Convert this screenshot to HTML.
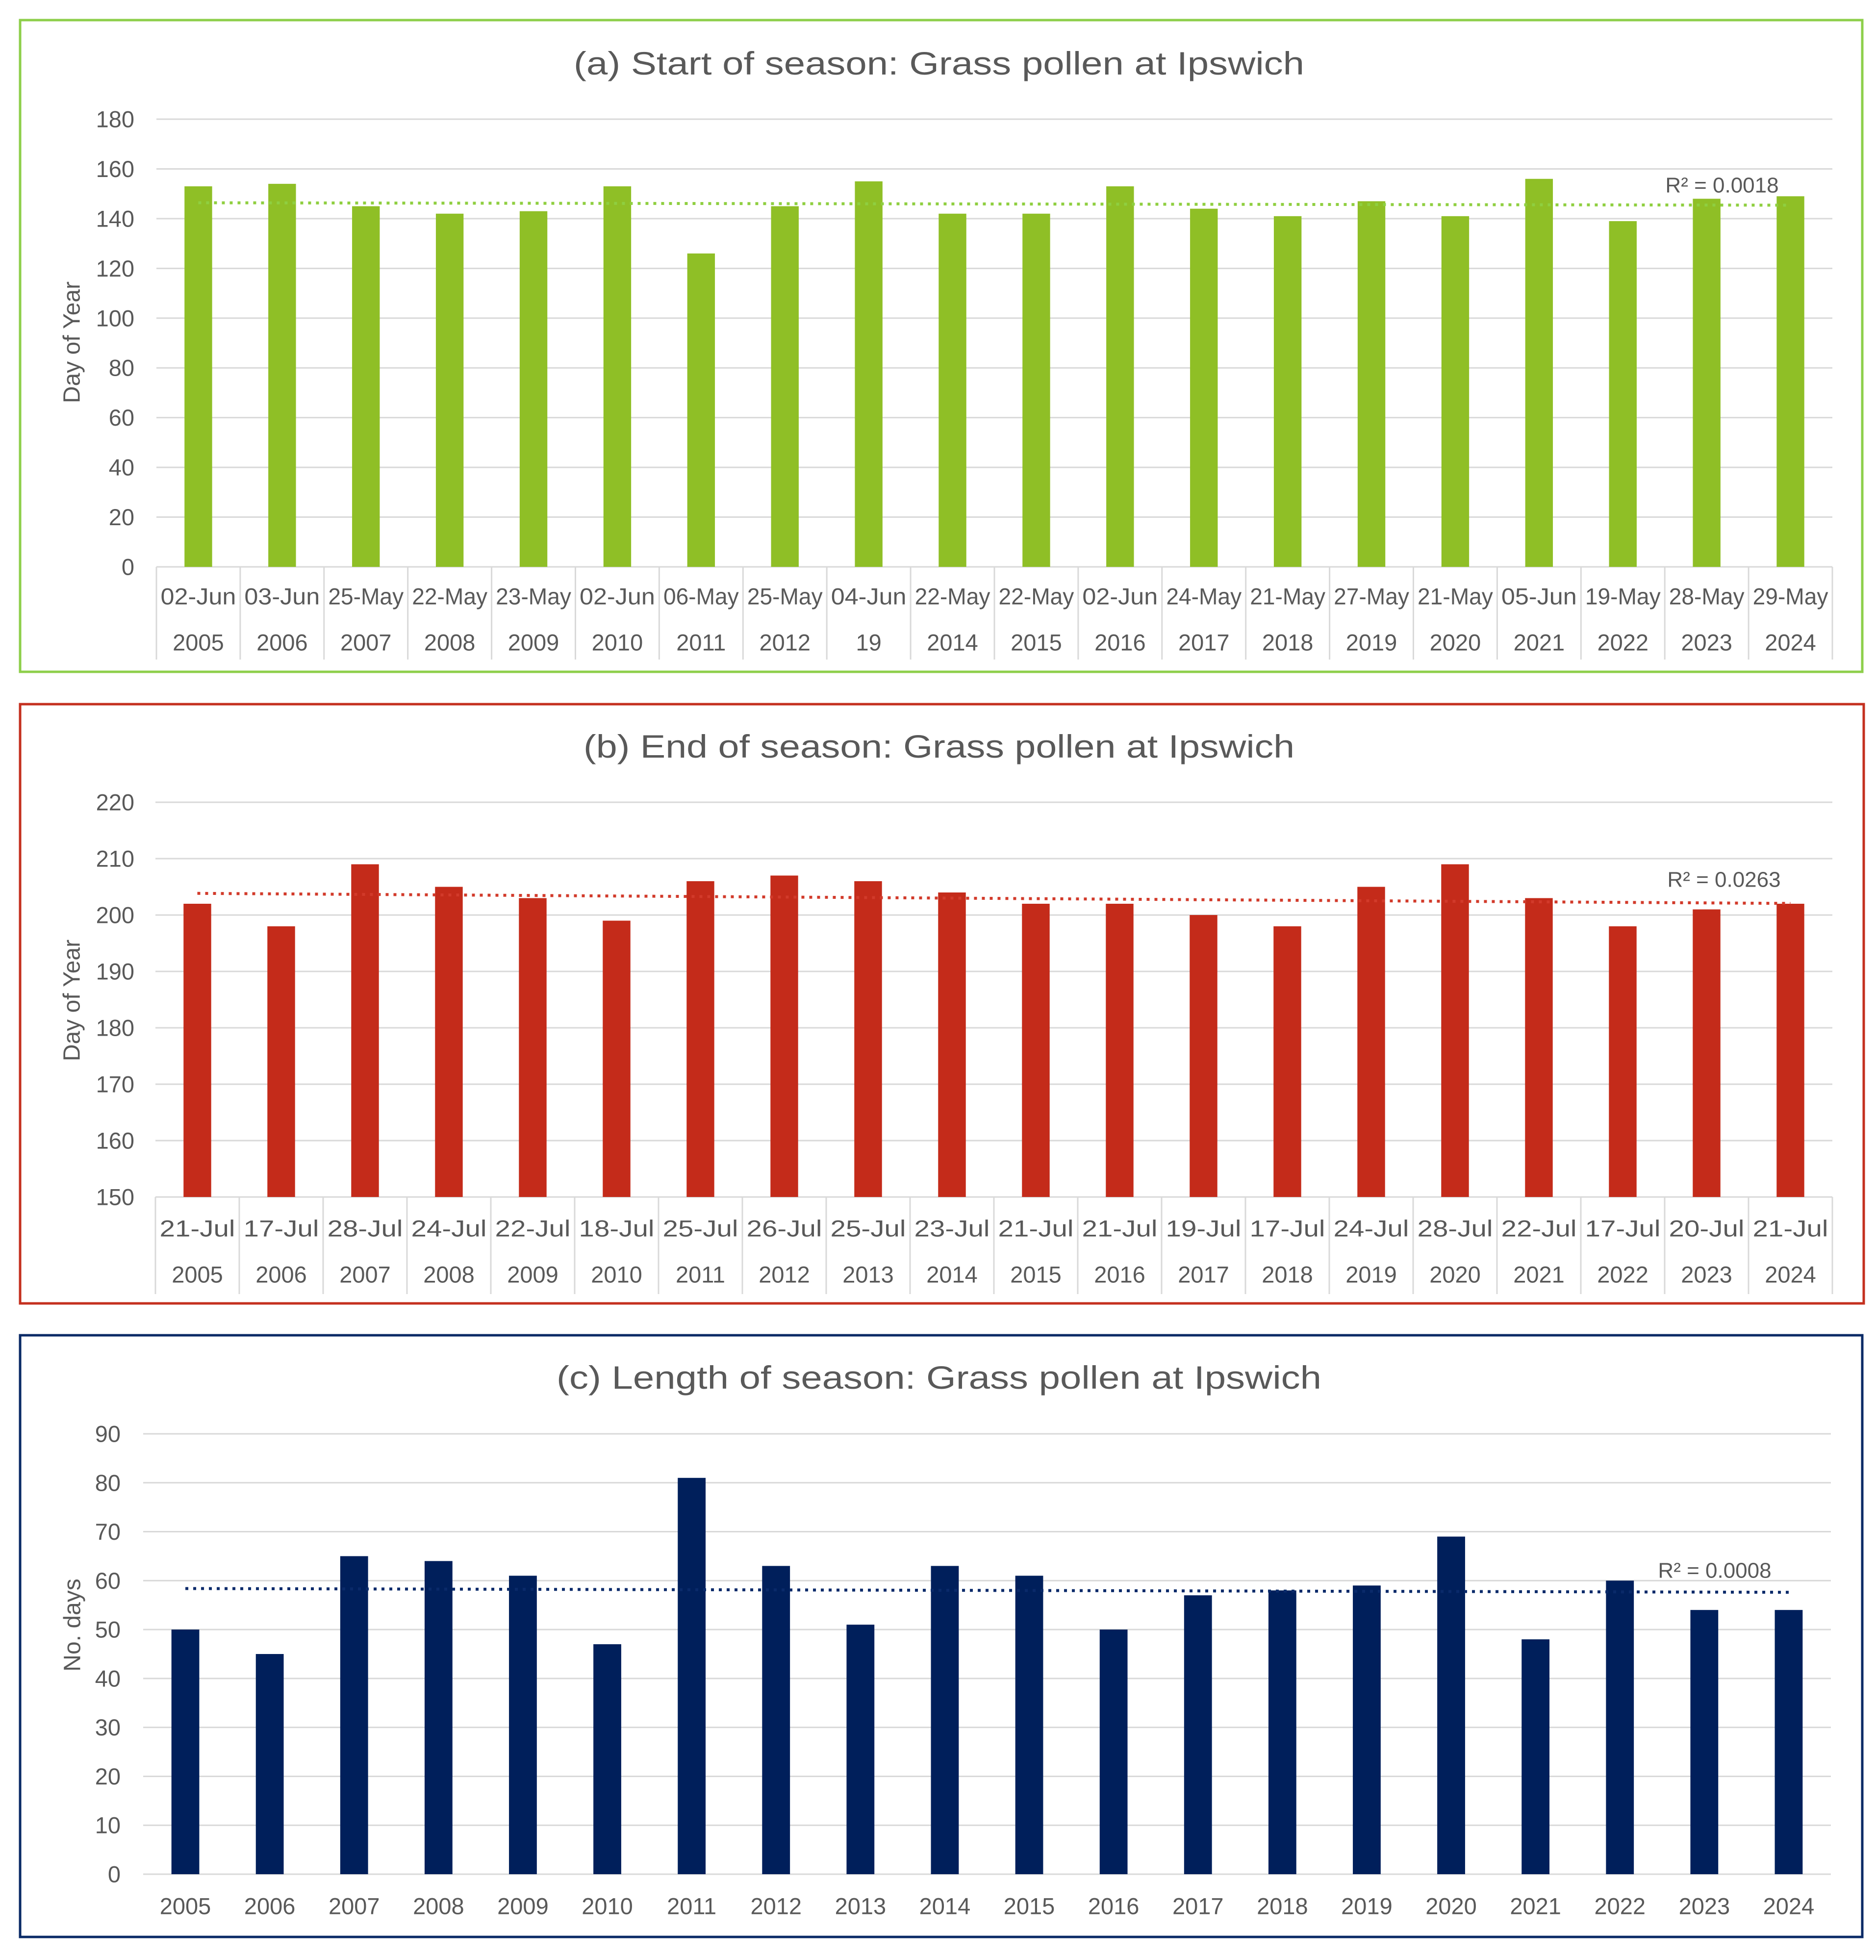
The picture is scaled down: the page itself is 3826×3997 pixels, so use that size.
<!DOCTYPE html>
<html><head><meta charset="utf-8"><style>
html,body{margin:0;padding:0;background:#fff}
svg{display:block;font-family:"Liberation Sans",sans-serif}
</style></head><body>
<svg id="root" width="3826" height="3997" viewBox="0 0 3826 3997"></svg>
<script>
const yearsA = ["2005","2006","2007","2008","2009","2010","2011","2012","19","2014","2015","2016","2017","2018","2019","2020","2021","2022","2023","2024"];
const datesA = ["02-Jun","03-Jun","25-May","22-May","23-May","02-Jun","06-May","25-May","04-Jun","22-May","22-May","02-Jun","24-May","21-May","27-May","21-May","05-Jun","19-May","28-May","29-May"];
const valuesA = [153,154,145,142,143,153,126,145,155,142,142,153,144,141,147,141,156,139,148,149];
const ticksA = [0,20,40,60,80,100,120,140,160,180];

const yearsB = ["2005","2006","2007","2008","2009","2010","2011","2012","2013","2014","2015","2016","2017","2018","2019","2020","2021","2022","2023","2024"];
const datesB = ["21-Jul","17-Jul","28-Jul","24-Jul","22-Jul","18-Jul","25-Jul","26-Jul","25-Jul","23-Jul","21-Jul","21-Jul","19-Jul","17-Jul","24-Jul","28-Jul","22-Jul","17-Jul","20-Jul","21-Jul"];
const valuesB = [202,198,209,205,203,199,206,207,206,204,202,202,200,198,205,209,203,198,201,202];
const ticksB = [150,160,170,180,190,200,210,220];

const yearsC = ["2005","2006","2007","2008","2009","2010","2011","2012","2013","2014","2015","2016","2017","2018","2019","2020","2021","2022","2023","2024"];
const valuesC = [50,45,65,64,61,47,81,63,51,63,61,50,57,58,59,69,48,60,54,54];
const ticksC = [0,10,20,30,40,50,60,70,80,90];

const NS = "http://www.w3.org/2000/svg";
const root = document.getElementById('root');
function mk(tag, attrs, parent, text){
  const e = document.createElementNS(NS, tag);
  for (const k in attrs) e.setAttribute(k, attrs[k]);
  if (text !== undefined) e.textContent = text;
  (parent || root).appendChild(e);
  return e;
}
function regression(vals){
  const n = vals.length; let sx=0, sy=0, sxy=0, sxx=0;
  vals.forEach((v,i)=>{sx+=i; sy+=v; sxy+=i*v; sxx+=i*i;});
  const b = (n*sxy - sx*sy)/(n*sxx - sx*sx);
  const a = (sy - b*sx)/n;
  return [a, b];
}

function panel(cfg){
  const g = mk('g', {});
  
  
  const border = mk('rect', {x:cfg.bx, y:cfg.by, width:cfg.bw, height:cfg.bh, fill:'#fff', stroke:cfg.border, 'stroke-width':5}, g);
  
  
  const title = mk('text', {x:1915, y:cfg.titleY, 'font-size':66, fill:'#595959', 'text-anchor':'middle', 'dominant-baseline':'central', textLength:cfg.titleLen, lengthAdjust:'spacingAndGlyphs'}, g, cfg.title);
  
  
  const n = cfg.values.length;
  const cw = (cfg.right - cfg.left)/n;
  const x = i => cfg.left + cw*(i+0.5);
  const y = v => cfg.y0 + (v - cfg.min)/(cfg.max - cfg.min)*(cfg.y1 - cfg.y0);
  cfg.ticks.forEach(t=>{
    const gl = mk('line', {x1:cfg.left, x2:cfg.right, y1:y(t), y2:y(t), stroke:'#d9d9d9', 'stroke-width':3}, g);
    
    
    const tl = mk('text', {x:cfg.labelRight, y:y(t), 'font-size':47, fill:'#595959', 'text-anchor':'end', 'dominant-baseline':'central'}, g, String(t));
    
    
  });
  const at = mk('text', {x:0, y:0, 'font-size':48, fill:'#595959', 'text-anchor':'middle', 'dominant-baseline':'central', transform:`translate(${cfg.axisTitleX},${cfg.axisTitleY}) rotate(-90)`}, g, cfg.axisTitle);
  
  
  cfg.values.forEach((v,i)=>{
    const bw = cw*0.33;
    const r = mk('rect', {x:x(i)-bw/2, y:y(v), width:bw, height:y(cfg.min)-y(v), fill:cfg.color}, g);
    
    
  });
  if (cfg.dates){
    for (let i=0;i<=n;i++){
      const sx = cfg.left + cw*i;
      const s = mk('line', {x1:sx, x2:sx, y1:y(cfg.min), y2:cfg.sepBottom, stroke:'#d9d9d9', 'stroke-width':3}, g);
      
      
    }
    cfg.dates.forEach((d,i)=>{
      const t = mk('text', {x:x(i), y:cfg.dateY, 'font-size':47, fill:'#595959', 'text-anchor':'middle', 'dominant-baseline':'central', textLength:cw*0.9, lengthAdjust:'spacingAndGlyphs'}, g, d);
      
      
    });
  }
  cfg.years.forEach((yr,i)=>{
    const t = mk('text', {x:x(i), y:cfg.yearY, 'font-size':47, fill:'#595959', 'text-anchor':'middle', 'dominant-baseline':'central'}, g, yr);
    
    
  });
  const [a,b] = regression(cfg.values);
  const tr = mk('line', {x1:x(0), x2:x(n-1), y1:y(a), y2:y(a+b*(n-1)), stroke:cfg.trend, 'stroke-width':6, 'stroke-dasharray':'6 10'}, g);
  
  
  const rl = mk('text', {x:cfg.r2X, y:cfg.r2Y, 'font-size':44, fill:'#595959', 'text-anchor':'middle', 'dominant-baseline':'central'}, g, cfg.r2);
  
  
}

panel({name:'start-of-season-chart', bx:41, by:41, bw:3757, bh:1329, border:'#8dcf4a',
  title:'(a) Start of season: Grass pollen at Ipswich', titleY:129, titleLen:1490,
  values:valuesA, years:yearsA, dates:datesA, ticks:ticksA, min:0, max:180,
  left:319, right:3737, y0:1156, y1:243, labelRight:274, color:'#8fbf26', trend:'#8fcf40',
  axisTitle:'Day of Year', axisTitleX:147, axisTitleY:698, sepBottom:1345, dateY:1216, yearY:1310,
  r2:'R² = 0.0018', r2X:3512, r2Y:378});

panel({name:'end-of-season-chart', bx:41, by:1436, bw:3760, bh:1222, border:'#c4301f',
  title:'(b) End of season: Grass pollen at Ipswich', titleY:1522, titleLen:1450,
  values:valuesB, years:yearsB, dates:datesB, ticks:ticksB, min:150, max:220,
  left:317, right:3737, y0:2441, y1:1636, labelRight:274, color:'#c42b1a', trend:'#d23a2a',
  axisTitle:'Day of Year', axisTitleX:147, axisTitleY:2040, sepBottom:2639, dateY:2505, yearY:2599,
  r2:'R² = 0.0263', r2X:3516, r2Y:1794});

panel({name:'length-of-season-chart', bx:41, by:2723, bw:3757, bh:1227, border:'#0a2a66',
  title:'(c) Length of season: Grass pollen at Ipswich', titleY:2809, titleLen:1560,
  values:valuesC, years:yearsC, dates:null, ticks:ticksC, min:0, max:90,
  left:292, right:3734, y0:3822, y1:2924, labelRight:246, color:'#001f5b', trend:'#0a2a6a',
  axisTitle:'No. days', axisTitleX:148, axisTitleY:3314, sepBottom:0, dateY:0, yearY:3887,
  r2:'R² = 0.0008', r2X:3497, r2Y:3203});
</script>
</body></html>
